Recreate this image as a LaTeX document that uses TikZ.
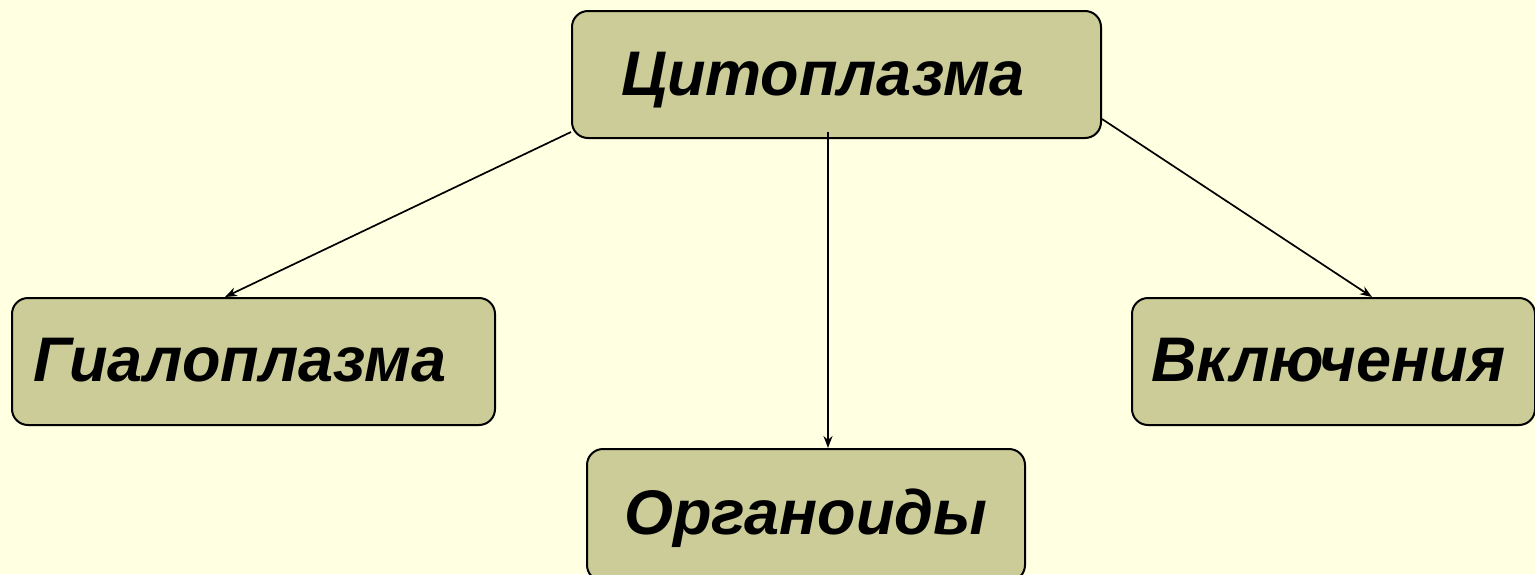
\documentclass[tikz,border=0pt]{standalone}
\usepackage{fontspec}
\setmainfont{Liberation Sans}
\usetikzlibrary{arrows.meta}
\definecolor{bgyellow}{HTML}{FFFFE1}
\definecolor{boxolive}{HTML}{CCCC99}
\tikzset{
  box/.style={draw=black, line width=2pt, fill=boxolive, rounded corners=16pt,
    inner sep=0pt, anchor=north west},
  word/.style={font=\fontsize{63}{63}\selectfont\bfseries\itshape, inner sep=0pt,
    anchor=base west},
  link/.style={line width=1.7pt, -{Stealth[length=12pt,width=9pt]}}
}
\begin{document}
\begin{tikzpicture}[x=1pt, y=-1pt]
  \fill[bgyellow] (0,0) rectangle (1535,574);
  \useasboundingbox (0,0) rectangle (1535,574);
  \clip (0,0) rectangle (1535,574);

  % boxes
  \node[box, minimum width=529pt, minimum height=127pt] (cyt) at (571,10) {};
  \node[box, minimum width=483pt, minimum height=127pt] (hyal) at (11,297) {};
  \node[box, minimum width=438pt, minimum height=132pt] (org) at (586,448) {};
  \node[box, minimum width=403pt, minimum height=127pt] (incl) at (1131,297) {};

  % labels
  \node[word] (tcyt) at (621,95) {Цитоплазма};
  \node[word] (thyal) at (33,381) {Гиалоплазма};
  \node[word] (torg) at (624,534) {Органоиды};
  \node[word] (tincl) at (1151,381) {Включения};

  % connectors
  \draw[link] ([yshift=7pt]cyt.south west) -- ([xshift=214pt]hyal.north west);
  \draw[link] ([xshift=257pt,yshift=7pt]cyt.south west) -- ([xshift=242pt]org.north west);
  \draw[link] ([yshift=20pt]cyt.south east) -- ([xshift=241pt]incl.north west);
\end{tikzpicture}
\end{document}
